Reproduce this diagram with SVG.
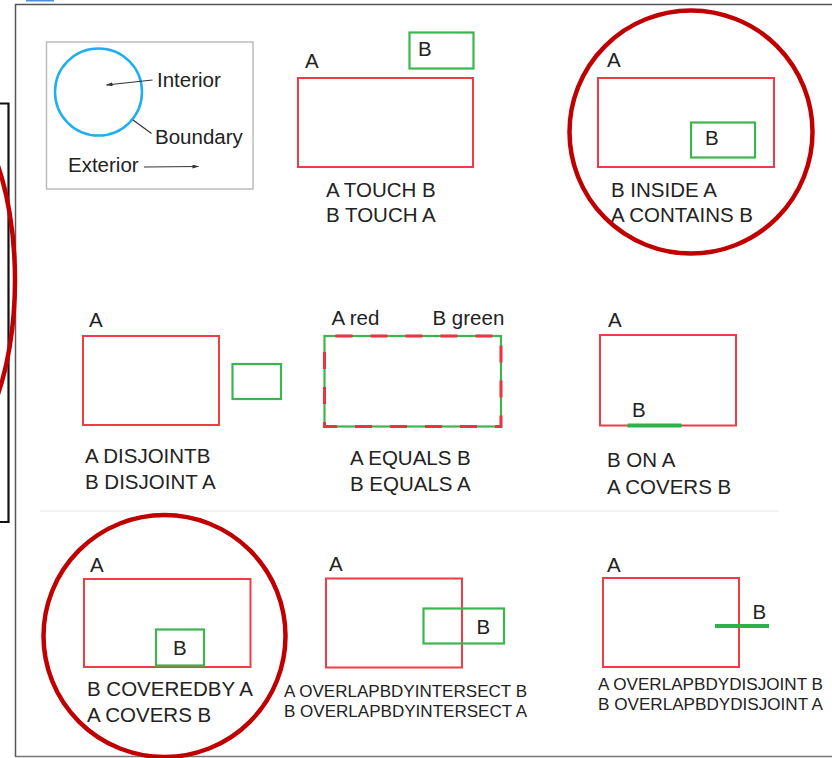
<svg xmlns="http://www.w3.org/2000/svg" width="832" height="758" viewBox="0 0 832 758">
  <style>
    .t { font-family: "Liberation Sans", Arial, sans-serif; font-size: 20.5px; fill: #222; }
    .s { font-family: "Liberation Sans", Arial, sans-serif; font-size: 16.5px; fill: #222; }
    .ra { fill: none; stroke: #f03c45; stroke-width: 2; }
    .gb { fill: none; stroke: #3cb550; stroke-width: 2.2; }
    .gl { fill: none; stroke: #2eb04a; stroke-width: 4; }
    .ring { fill: none; stroke: #c00000; stroke-width: 4.5; }
    .lead { fill: none; stroke: #333; stroke-width: 1.2; }
  </style>
  <defs>
    <marker id="tip" viewBox="0 0 10 6" refX="9" refY="3" markerWidth="7" markerHeight="4" orient="auto" markerUnits="userSpaceOnUse">
      <path d="M0,0 L10,3 L0,6 Z" fill="#333"/>
    </marker>
  </defs>

  <rect width="832" height="758" fill="#fff"/>

  <!-- outer frame and page marks -->
  <g id="frame">
    <rect x="26" y="0" width="28" height="1.5" fill="#4a90d9"/>
    <path d="M15.5 757 V4.5 H832" fill="none" stroke="#555" stroke-width="1.5"/>
    <path d="M15.5 756.5 H832" fill="none" stroke="#777" stroke-width="1.5"/>
    <path d="M40 511 H779" fill="none" stroke="#e6e6e6" stroke-width="1"/>
    <path d="M-2 103.5 H8.5 V522 H-2" fill="none" stroke="#111" stroke-width="2.2"/>
    <ellipse cx="-60" cy="280" rx="75" ry="180" class="ring"/>
  </g>

  <!-- legend: interior / boundary / exterior -->
  <g id="legend">
    <rect x="46.5" y="42" width="206.5" height="147" fill="#fff" stroke="#bdbdbd" stroke-width="1.5"/>
    <circle cx="98.5" cy="92" r="43.5" fill="none" stroke="#1fb0ec" stroke-width="2.5"/>
    <line x1="152.5" y1="80" x2="106.5" y2="85" class="lead" marker-end="url(#tip)"/>
    <line x1="133" y1="120" x2="151.5" y2="133.5" class="lead"/>
    <line x1="144" y1="167" x2="198.5" y2="166.5" class="lead" marker-end="url(#tip)"/>
    <text x="157" y="87" class="t">Interior</text>
    <text x="155" y="144" class="t">Boundary</text>
    <text x="68" y="172" class="t">Exterior</text>
  </g>

  <!-- touch -->
  <g id="touch">
    <rect x="298" y="78" width="175" height="89" class="ra"/>
    <rect x="409.5" y="32.5" width="64" height="36" class="gb"/>
    <text x="305" y="68" class="t">A</text>
    <text x="418" y="56" class="t">B</text>
    <text x="326" y="197" class="t">A TOUCH B</text>
    <text x="326" y="222" class="t">B TOUCH A</text>
  </g>

  <!-- inside / contains -->
  <g id="inside">
    <rect x="598" y="78" width="176" height="89" class="ra"/>
    <rect x="691" y="122.5" width="64" height="35" class="gb"/>
    <text x="607" y="67" class="t">A</text>
    <text x="705" y="144.5" class="t">B</text>
    <text x="611" y="197" class="t">B INSIDE A</text>
    <text x="611" y="222" class="t">A CONTAINS B</text>
    <circle cx="691" cy="132" r="121.5" class="ring"/>
  </g>

  <!-- disjoint -->
  <g id="disjoint">
    <rect x="83" y="336" width="136" height="89" class="ra"/>
    <rect x="232.5" y="364" width="48.5" height="35" class="gb"/>
    <text x="89" y="327" class="t">A</text>
    <text x="85" y="463" class="t">A DISJOINTB</text>
    <text x="85" y="489" class="t">B DISJOINT A</text>
  </g>

  <!-- equals -->
  <g id="equals">
    <rect x="324.5" y="336" width="176.5" height="90.5" class="gb"/>
    <rect x="324.5" y="336" width="176.5" height="90.5" fill="none" stroke="#ee3340" stroke-width="3" stroke-dasharray="17 18" stroke-dashoffset="24"/>
    <text x="331.5" y="325" class="t">A red</text>
    <text x="432.5" y="325" class="t">B green</text>
    <text x="350" y="465" class="t">A EQUALS B</text>
    <text x="350" y="491" class="t">B EQUALS A</text>
  </g>

  <!-- on / covers -->
  <g id="on">
    <rect x="600" y="335" width="136" height="90.5" class="ra"/>
    <line x1="627.5" y1="425.5" x2="681.5" y2="425.5" class="gl"/>
    <text x="608" y="327" class="t">A</text>
    <text x="632" y="417" class="t">B</text>
    <text x="607" y="467" class="t">B ON A</text>
    <text x="607" y="493.5" class="t">A COVERS B</text>
  </g>

  <!-- covered by -->
  <g id="coveredby">
    <rect x="84" y="579" width="166.5" height="88" class="ra"/>
    <rect x="156" y="629.5" width="48" height="36" class="gb"/>
    <text x="90" y="572" class="t">A</text>
    <text x="173" y="655" class="t">B</text>
    <text x="87" y="696" class="t">B COVEREDBY A</text>
    <text x="87" y="722" class="t">A COVERS B</text>
    <circle cx="164.5" cy="636" r="121" class="ring"/>
  </g>

  <!-- overlap, boundary intersect -->
  <g id="overlapintersect">
    <rect x="326" y="578.5" width="136" height="89" class="ra"/>
    <rect x="423.5" y="608.5" width="80.5" height="35" class="gb"/>
    <text x="329" y="571" class="t">A</text>
    <text x="476.5" y="634" class="t">B</text>
    <text x="284" y="697" class="s" textLength="243" lengthAdjust="spacingAndGlyphs">A OVERLAPBDYINTERSECT B</text>
    <text x="284" y="717" class="s" textLength="243" lengthAdjust="spacingAndGlyphs">B OVERLAPBDYINTERSECT A</text>
  </g>

  <!-- overlap, boundary disjoint -->
  <g id="overlapdisjoint">
    <rect x="603" y="578" width="136" height="89" class="ra"/>
    <line x1="715" y1="626" x2="769" y2="626" class="gl"/>
    <text x="607" y="572" class="t">A</text>
    <text x="752.5" y="619" class="t">B</text>
    <text x="598" y="690" class="s" textLength="225" lengthAdjust="spacingAndGlyphs">A OVERLAPBDYDISJOINT B</text>
    <text x="598" y="710" class="s" textLength="225" lengthAdjust="spacingAndGlyphs">B OVERLAPBDYDISJOINT A</text>
  </g>
</svg>
